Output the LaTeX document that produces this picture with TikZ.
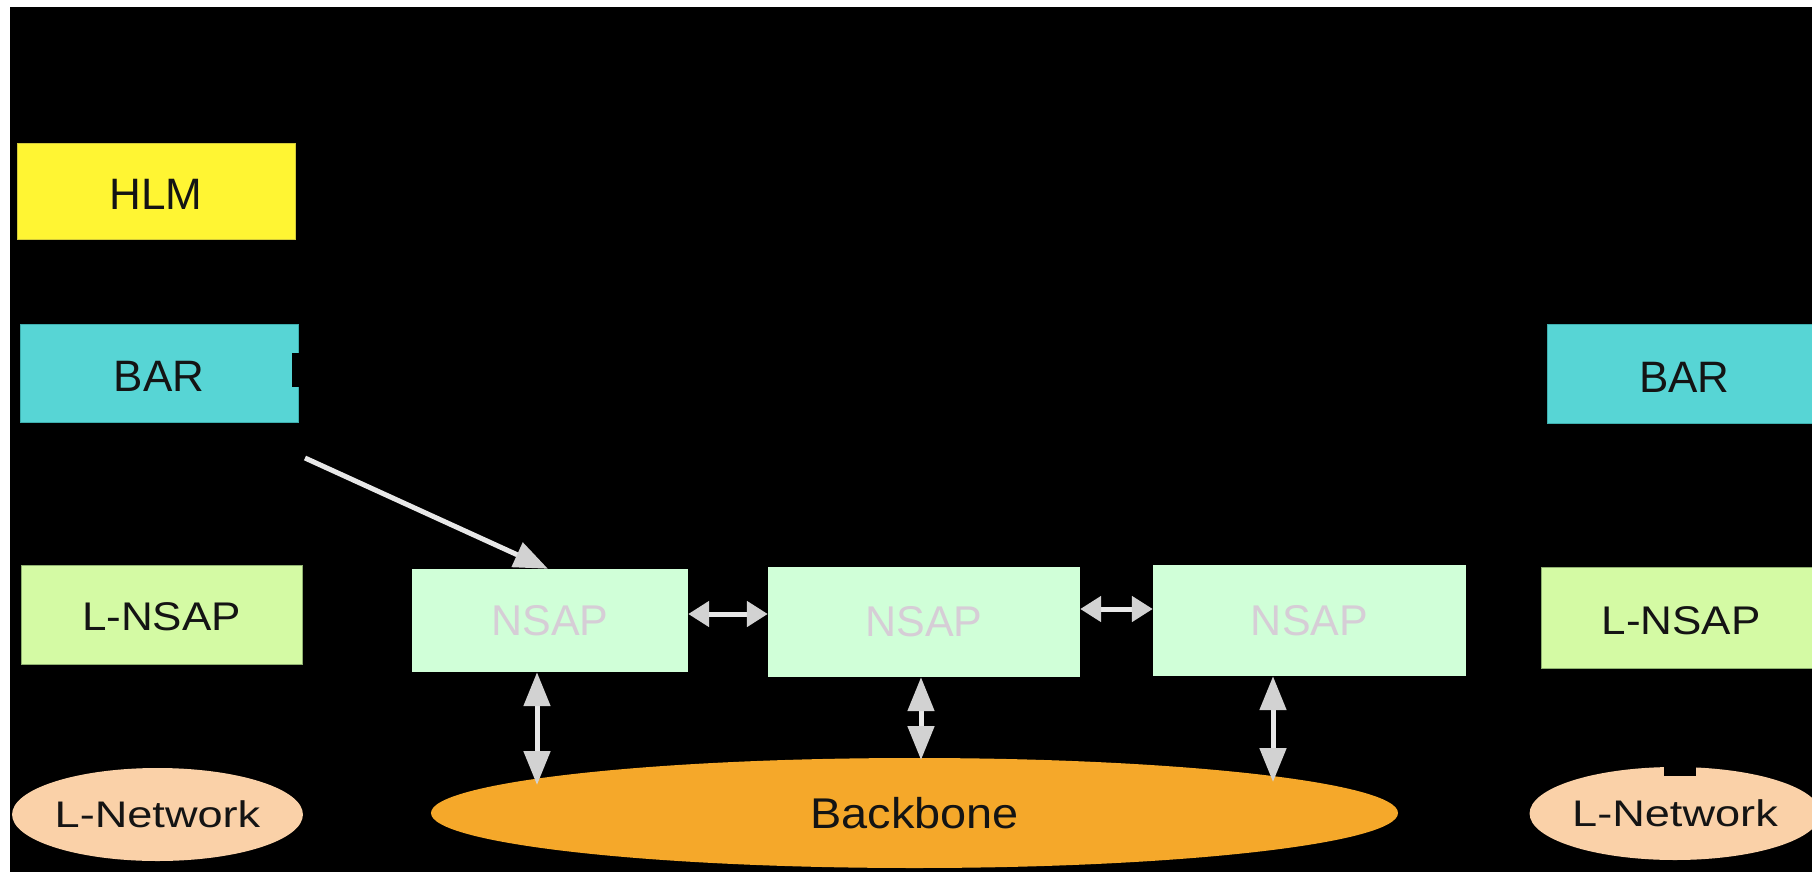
\documentclass[tikz,border=0pt]{standalone}
\usepackage{fontspec}
\setmainfont{Liberation Sans}
\usepackage{graphicx}
\usetikzlibrary{arrows.meta,shapes.geometric}

\definecolor{hlmfill}{HTML}{FFF533}
\definecolor{hlmedge}{HTML}{D2C93A}
\definecolor{barfill}{HTML}{57D5D5}
\definecolor{baredge}{HTML}{3FAFAF}
\definecolor{lnsapfill}{HTML}{D4FAA4}
\definecolor{lnsapedge}{HTML}{8FB070}
\definecolor{nsapfill}{HTML}{D0FFD8}
\definecolor{nsaptext}{HTML}{D6CDD6}
\definecolor{lnetfill}{HTML}{FAD1A8}
\definecolor{bbfill}{HTML}{F5A82A}
\definecolor{labeltext}{HTML}{141414}
\definecolor{arrowshaft}{HTML}{E8E8E8}
\definecolor{arrowhead}{HTML}{D2D2D2}

\begin{document}
\begin{tikzpicture}[x=1pt,y=-1pt,
  layerbox/.style={rectangle, inner sep=0pt, line width=0.8pt, text=labeltext,
    font=\fontsize{44}{48}\selectfont, text height=37pt},
  hlmbox/.style={layerbox, fill=hlmfill, draw=hlmedge},
  barbox/.style={layerbox, fill=barfill, draw=baredge},
  lnsapbox/.style={layerbox, fill=lnsapfill, draw=lnsapedge,
    font=\fontsize{40}{44}\selectfont, text height=34pt},
  nsapbox/.style={rectangle, inner sep=0pt, fill=nsapfill, text=nsaptext,
    font=\fontsize{43}{47}\selectfont},
  lnetcloud/.style={ellipse, inner sep=0pt, fill=lnetfill, text=labeltext,
    font=\fontsize{37}{41}\selectfont},
  bbcloud/.style={ellipse, inner sep=0pt, fill=bbfill, text=labeltext,
    font=\fontsize{43}{47}\selectfont},
  flattip/.tip={Triangle[length=21pt,width=25pt,color=arrowhead]},
  talltip/.tip={Triangle[length=34pt,width=26pt,color=arrowhead]},
  hlink/.style={draw=arrowshaft, line width=5pt, flattip-flattip},
  vlink/.style={draw=arrowshaft, line width=5pt, talltip-talltip},
  downlink/.style={draw=arrowshaft, line width=5pt,
    -{Triangle[length=34pt,width=26pt,color=arrowhead]}}
]
\useasboundingbox (0,0) rectangle (1812,872);
\clip (0,0) rectangle (1812,872);

% page frame
\fill[white] (0,0) rectangle (1812,872);
\fill[black] (10,7) rectangle (1812,872);

% left stack
\node[hlmbox, minimum width=278pt, minimum height=96pt] (hlm) at (156,191) {HLM};
\node[barbox, minimum width=278pt, minimum height=98pt] (barL) at (159,373) {BAR};
\fill[black] (292,353) rectangle (300,387);
\node[lnsapbox, minimum width=281pt, minimum height=99pt, text height=31.5pt]
  (lnsapL) at (161.5,614.5) {\scalebox{1.1}[1]{L-NSAP}};
\node[lnetcloud, minimum width=289pt, minimum height=93pt] (lnetL) at (157.5,814.5)
  {\scalebox{1.22}[1]{L-Network}};

% right stack
\node[barbox, minimum width=275pt, minimum height=99pt] (barR) at (1684.5,373.5) {BAR};
\node[lnsapbox, minimum width=280pt, minimum height=101pt] (lnsapR) at (1681,617.5)
  {\scalebox{1.1}[1]{L-NSAP}};
\node[lnetcloud, minimum width=286pt, minimum height=93pt] (lnetR) at (1675,813.5)
  {\scalebox{1.22}[1]{L-Network}};
\fill[black] (1664,767) rectangle (1696,776);

% backbone and its access points
\node[bbcloud, minimum width=967pt, minimum height=110pt] (bb) at (914.5,813)
  {\scalebox{1.09}[1]{Backbone}};
\node[nsapbox, minimum width=276pt, minimum height=103pt] (ns1) at (550,620.5) {NSAP};
\node[nsapbox, minimum width=312pt, minimum height=110pt] (ns2) at (924,622) {NSAP};
\node[nsapbox, minimum width=313pt, minimum height=111pt] (ns3) at (1309.5,620.5) {NSAP};

% ends of the links on the backbone
\coordinate (bb1) at (537,785);
\coordinate (bb2) at (921,760);
\coordinate (bb3) at (1273,782);
\coordinate (barfoot) at (305,458);

% links
\draw[downlink] (barfoot) -- ([xshift=-2pt]ns1.north);
\draw[hlink] ([yshift=6.5pt]ns1.east) -- ([yshift=6.5pt]ns1.east -| ns2.west);
\draw[hlink] ([yshift=13pt]ns2.east) -- ([yshift=13pt]ns2.east -| ns3.west);
\draw[vlink] ([xshift=-13pt]ns1.south) -- (bb1);
\draw[vlink] ([xshift=-3pt]ns2.south) -- (bb2);
\draw[vlink] ([xshift=-36.5pt]ns3.south) -- (bb3);
\end{tikzpicture}
\end{document}
